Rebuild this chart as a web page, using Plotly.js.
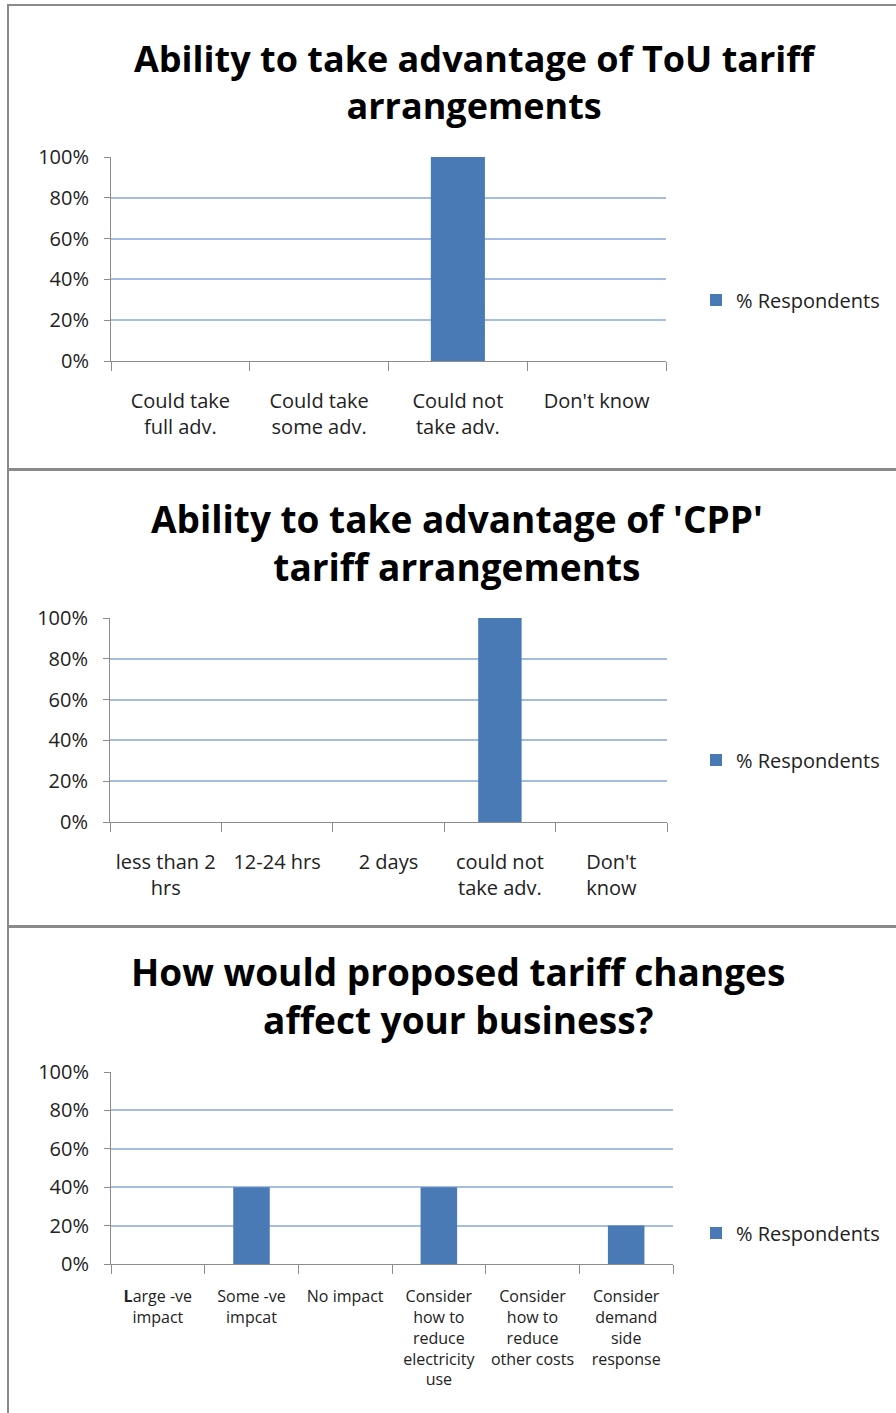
<!DOCTYPE html>
<html>
<head>
<meta charset="utf-8">
<script src="https://cdn.plot.ly/plotly-3.0.1.min.js"></script>
<style>html,body{margin:0;padding:0;background:#fff;}#chart{width:896px;height:1413px;}</style>
</head>
<body>
<div id="chart"></div>
<script>
// ---- Data ----
const seriesName = "% Respondents";

const title1 = "Ability to take advantage of ToU tariff<br>arrangements";
const cats1 = ["Could take<br>full adv.", "Could take<br>some adv.", "Could not<br>take adv.", "Don't know"];
const vals1 = [0, 0, 1.00, 0];

const title2 = "Ability to take advantage of 'CPP'<br>tariff arrangements";
const cats2 = ["less than 2<br>hrs", "12-24 hrs", "2 days", "could not<br>take adv.", "Don't<br>know"];
const vals2 = [0, 0, 0, 1.00, 0];

const title3 = "How would proposed tariff changes<br>affect your business?";
const cats3 = ["<b>L</b>arge -ve<br>impact", "Some -ve<br>impcat", "No impact", "Consider<br>how to<br>reduce<br>electricity<br>use", "Consider<br>how to<br>reduce<br>other costs", "Consider<br>demand<br>side<br>response"];
const vals3 = [0, 0.40, 0, 0.40, 0, 0.20];

const yTicks = [0, 0.2, 0.4, 0.6, 0.8, 1.0];

// ---- Styles ----
const FONT = "'Open Sans', Lato, sans-serif";
const BAR = "#4A7AB5";
const GRID = "#A6BDE2";
const AXIS = "#8C8C8C";
const H = 1413, W = 896;
const py = p => 1 - p / H;
const px = p => p / W;

const traces = [
  {type: "bar", x: cats1, y: vals1, name: seriesName, xaxis: "x", yaxis: "y",
   marker: {color: BAR, line: {width: 0}}, legend: "legend", showlegend: true},
  {type: "bar", x: cats2, y: vals2, name: seriesName, xaxis: "x2", yaxis: "y2",
   marker: {color: BAR, line: {width: 0}}, legend: "legend2", showlegend: true},
  {type: "bar", x: cats3, y: vals3, name: seriesName, xaxis: "x3", yaxis: "y3",
   marker: {color: BAR, line: {width: 0}}, legend: "legend3", showlegend: true}
];

function xax(domain, anchor, fs, standoff) {
  return {domain: domain, anchor: anchor, type: "category", showline: true, linecolor: AXIS, linewidth: 1,
    ticks: "outside", tickson: "boundaries", ticklen: 9, tickcolor: AXIS, tickwidth: 1,
    showgrid: false, zeroline: false, tickfont: {family: FONT, size: fs, color: "#222"},
    fixedrange: true, ticklabelstandoff: standoff};
}
function yax(domain, anchor) {
  return {domain: domain, anchor: anchor, range: [0, 1], tickvals: yTicks, tickformat: ".0%",
    showline: true, linecolor: AXIS, linewidth: 1, ticks: "outside", ticklen: 6, tickcolor: AXIS,
    showgrid: true, gridcolor: GRID, gridwidth: 2, zeroline: false,
    tickfont: {family: FONT, size: 20, color: "#222"}, fixedrange: true, ticklabelstandoff: 11};
}
function leg(ypx) {
  return {x: px(696), y: py(ypx), xanchor: "left", yanchor: "middle", bgcolor: "rgba(0,0,0,0)",
    font: {family: FONT, size: 20, color: "#222"}, itemwidth: 30, tracegroupgap: 0};
}
function ttl(text, xc, ypx, fs) {
  return {text: "<b>" + text + "</b>", xref: "paper", yref: "paper", x: px(xc), y: py(ypx),
    xanchor: "center", yanchor: "middle", showarrow: false,
    font: {family: FONT, size: fs, color: "#000"}, align: "center"};
}
function box(t, b) {
  return {type: "rect", xref: "paper", yref: "paper", x0: px(8), x1: 1.02, y0: py(b), y1: py(t),
    line: {color: "#8A8A8A", width: 2}, fillcolor: "rgba(0,0,0,0)", layer: "below"};
}

const layout = {
  width: W, height: H, margin: {l: 0, r: 0, t: 0, b: 0},
  paper_bgcolor: "#fff", plot_bgcolor: "#fff", bargap: 0.61,
  font: {family: FONT},
  xaxis: xax([px(111), px(666)], "y", 20, 22),
  yaxis: yax([py(361), py(157)], "x"),
  xaxis2: xax([px(110), px(667)], "y2", 20, 22),
  yaxis2: yax([py(822), py(618)], "x2"),
  xaxis3: xax([px(111), px(673)], "y3", 16, 18),
  yaxis3: yax([py(1264), py(1072)], "x3"),
  legend: leg(300), legend2: leg(760), legend3: leg(1233),
  annotations: [ttl(title1, 475, 82, 36), ttl(title2, 457, 542, 37), ttl(title3, 458, 996, 37)],
  shapes: [box(5, 469), box(470, 926), box(927, 1420)]
};

Plotly.newPlot("chart", traces, layout, {displayModeBar: false, staticPlot: true});
</script>
</body>
</html>
